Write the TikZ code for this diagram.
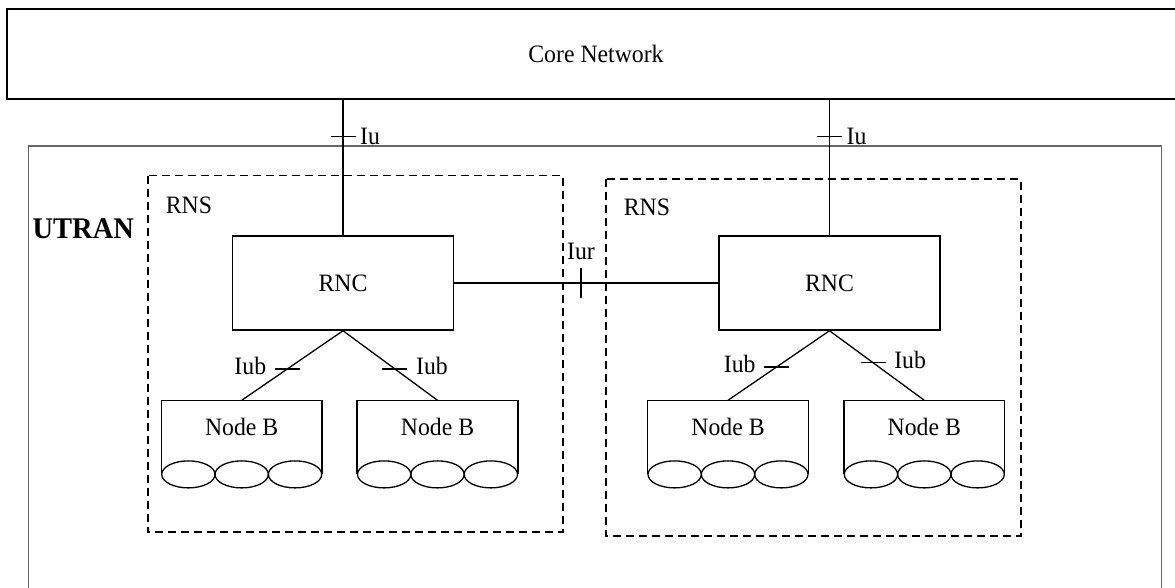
\documentclass[tikz,border=0pt]{standalone}
\usepackage{fontspec}
\setmainfont[FakeStretch=0.95]{Liberation Serif}

\tikzset{
  netbox/.style={draw, line width=0.75pt, inner sep=0pt},
  rnc/.style={netbox, minimum width=110.3pt, minimum height=47pt},
  nodeb/.style={inner sep=0pt, minimum width=80pt, minimum height=36.65pt,
                text height=8.3pt, text depth=9.8pt},
  rns/.style={line width=0.8pt, dash pattern=on 4pt off 2.5pt},
  link/.style={line width=0.65pt},
  lbl/.style={inner sep=1pt},
}

\begin{document}
\begin{tikzpicture}[x=0.5pt, y=-0.5pt, every node/.style={font=\fontsize{12.5pt}{15pt}\selectfont}]
\useasboundingbox (0,0) rectangle (1175,588);
\clip (0,0) rectangle (1175,588);
% core network and UTRAN
\node [netbox, line width=1pt, minimum width=589pt, minimum height=45pt] (core) at (596,54.3) {Core Network};
\draw [gray!80!black, line width=0.6pt] (28.5,146) rectangle (1161.5,640);
\node [font=\fontsize{15pt}{18pt}\selectfont\bfseries] (utran) at (83.3,229) {UTRAN};
% RNS areas
\draw [rns] (147.7,175.7) rectangle (562.7,532.3);
\draw [rns] (606,179) rectangle (1020.7,536);
\node (rnsL) at (189,205) {RNS};
\node (rnsR) at (647,207.7) {RNS};
% RNCs
\node [rnc] (rncL) at (343,283) {RNC};
\node [rnc] (rncR) at (829.5,283) {RNC};
% Node Bs
\node [nodeb] (nbLa) at (241.7,437.35) {Node B};
\node [nodeb] (nbLb) at (437.5,437.35) {Node B};
\node [nodeb] (nbRa) at (728,437.35) {Node B};
\node [nodeb] (nbRb) at (924.3,437.35) {Node B};
\foreach \n in {nbLa,nbLb,nbRa,nbRb}{
  \draw [link] (\n.south west) -- (\n.north west) -- (\n.north east) -- (\n.south east);
  \foreach \dx in {-26.67pt,0pt,26.67pt}
    \draw [link] ([xshift=\dx]\n.south) ellipse [x radius=13.33pt, y radius=6.75pt];
}
% Iu
\draw [link] (core.south -| rncL.north) -- coordinate[pos=0.27] (iuL) (rncL.north);
\draw [link] (iuL) +(-12.5,0) -- +(12.5,0) node [lbl, right=1pt] {Iu};
\draw [link] (core.south -| rncR.north) -- coordinate[pos=0.27] (iuR) (rncR.north);
\draw [link] (iuR) +(-12.5,0) -- +(12.5,0) node [lbl, right=1pt] {Iu};
% Iur
\draw [link] (rncL.east) -- coordinate[pos=0.48] (iur) (rncR.west);
\draw [link] (iur) +(0,15) -- +(0,-15) node [lbl, above=3pt] {Iur};
% Iub
\draw [link] (rncL.south) -- coordinate[pos=0.55] (iubLa) (nbLa.north);
\draw [link] (iubLa) +(12.5,0) -- +(-12.5,0) node [lbl, left=3pt, yshift=1.5pt] {Iub};
\draw [link] (rncL.south) -- coordinate[pos=0.55] (iubLb) (nbLb.north);
\draw [link] (iubLb) +(-12.5,0) -- +(12.5,0) node [lbl, right=3pt, yshift=1.5pt] {Iub};
\draw [link] (rncR.south) -- coordinate[pos=0.52] (iubRa) (nbRa.north);
\draw [link] (iubRa) +(12.5,0) -- +(-12.5,0) node [lbl, left=3pt, yshift=1.5pt] {Iub};
\draw [link] (rncR.south) -- coordinate[pos=0.46] (iubRb) (nbRb.north);
\draw [link] (iubRb) +(-12.5,0) -- +(12.5,0) node [lbl, right=3pt, yshift=1.5pt] {Iub};
\end{tikzpicture}
\end{document}
